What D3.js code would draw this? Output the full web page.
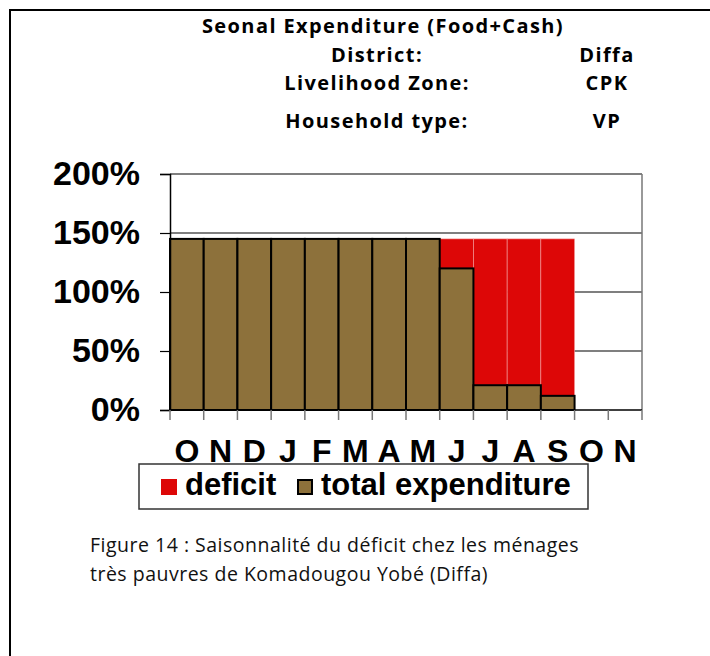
<!DOCTYPE html>
<html>
<head>
<meta charset="utf-8">
<script src="https://cdn.jsdelivr.net/npm/d3@7"></script>
<style>
  body { margin: 0; background: #fff; }
  svg { display: block; }
</style>
</head>
<body>
<div id="chart"></div>
<script>
// months along the x axis (Oct to Nov of the following year)
var months = ['O','N','D','J','F','M','A','M','J','J','A','S','O','N'];
// percent of needs covered
var totalExpenditure = [145,145,145,145,145,145,145,145,120,21,21,12,0,0];
var deficit = [0,0,0,0,0,0,0,0,25,124,124,133,0,0];
var yTicks = [0,50,100,150,200];

var headerLabels = ['District:','Livelihood Zone:','Household type:'];
var headerValues = ['Diffa','CPK','VP'];

var width = 710, height = 656;
var margin = { top: 174, right: 68, bottom: 246, left: 170 };
var w = width - margin.left - margin.right,
    h = height - margin.top - margin.bottom;

var svg = d3.select('#chart').append('svg')
    .attr('width', width)
    .attr('height', height);

// outer frame (left + top only, rest is cropped)
svg.append('path')
    .attr('d', 'M10,' + height + ' V10 H' + width)
    .attr('fill', 'none')
    .attr('stroke', '#000')
    .attr('stroke-width', 2);

// header
var hfont = '"Open Sans", Lato, sans-serif';
function headerText(txt, xx, yy){
    svg.append('text')
        .attr('x', xx).attr('y', yy)
        .attr('text-anchor', 'middle')
        .style('font', 'bold 20px ' + hfont)
        .style('letter-spacing', '1.4px')
        .text(txt);
}
headerText('Seonal Expenditure (Food+Cash)', 383, 33);

var rowY = [62, 90, 128];
headerLabels.forEach(function(lbl, i){
    headerText(lbl, 377, rowY[i]);
    headerText(headerValues[i], 607, rowY[i]);
});

var g = svg.append('g')
    .attr('transform', 'translate(' + margin.left + ',' + margin.top + ')');

var x = d3.scaleBand()
    .domain(d3.range(months.length))
    .range([0, w])
    .padding(0);

var y = d3.scaleLinear()
    .domain([0, 200])
    .range([h, 0]);

// gridlines
g.selectAll('.grid')
    .data(yTicks.slice(1))
    .enter().append('line')
    .attr('x1', 0).attr('x2', w)
    .attr('y1', function(d){ return y(d); })
    .attr('y2', function(d){ return y(d); })
    .attr('stroke', '#000')
    .attr('stroke-width', 1.2);

// right border of plot area
g.append('line')
    .attr('x1', w).attr('x2', w)
    .attr('y1', 0).attr('y2', h)
    .attr('stroke', '#777')
    .attr('stroke-width', 1.5);

// stacked bars
var stackData = months.map(function(m, i){
    return { i: i, total: totalExpenditure[i], deficit: deficit[i] };
});

g.selectAll('.def')
    .data(stackData.filter(function(d){ return d.deficit > 0; }))
    .enter().append('rect')
    .attr('class', 'def')
    .attr('x', function(d){ return x(d.i); })
    .attr('width', x.bandwidth())
    .attr('y', function(d){ return y(d.total + d.deficit); })
    .attr('height', function(d){ return y(d.total) - y(d.total + d.deficit); })
    .attr('fill', '#dd0707')
    .attr('stroke', '#f3a0a0')
    .attr('stroke-width', 0.6);

g.selectAll('.tot')
    .data(stackData.filter(function(d){ return d.total > 0; }))
    .enter().append('rect')
    .attr('class', 'tot')
    .attr('x', function(d){ return x(d.i); })
    .attr('width', x.bandwidth())
    .attr('y', function(d){ return y(d.total); })
    .attr('height', function(d){ return h - y(d.total); })
    .attr('fill', '#8d713b')
    .attr('stroke', '#000')
    .attr('stroke-width', 2);

// y axis
var yAxis = d3.axisLeft(y)
    .tickValues(yTicks)
    .tickSize(10)
    .tickPadding(20)
    .tickFormat(function(d){ return d + '%'; });

var gy = g.append('g').call(yAxis);
gy.select('.domain').attr('stroke', '#000').attr('stroke-width', 1.5);
gy.selectAll('.tick line').attr('stroke', '#000').attr('stroke-width', 1.2);
gy.selectAll('.tick text')
    .attr('fill', '#000')
    .style('font', 'bold 34px Arial, "Liberation Sans", sans-serif');

// x axis baseline + ticks at band boundaries
var gx = g.append('g').attr('transform', 'translate(0,' + h + ')');
gx.append('line')
    .attr('x1', 0).attr('x2', w)
    .attr('stroke', '#000').attr('stroke-width', 1.5);
gx.selectAll('.xt')
    .data(d3.range(months.length + 1))
    .enter().append('line')
    .attr('x1', function(d){ return d * x.step(); })
    .attr('x2', function(d){ return d * x.step(); })
    .attr('y1', 0).attr('y2', 10)
    .attr('stroke', '#777').attr('stroke-width', 1.5);
gx.selectAll('.xl')
    .data(months)
    .enter().append('text')
    .attr('x', function(d, i){ return x(i) + x.bandwidth() / 2; })
    .attr('y', 52)
    .attr('text-anchor', 'middle')
    .style('font', 'bold 32px Arial, "Liberation Sans", sans-serif')
    .text(function(d){ return d; });

// legend
var lg = svg.append('g').attr('transform', 'translate(139,464)');
lg.append('rect')
    .attr('width', 449).attr('height', 45)
    .attr('fill', '#fff')
    .attr('stroke', '#333').attr('stroke-width', 1.5);
lg.append('rect')
    .attr('x', 22).attr('y', 15).attr('width', 16).attr('height', 16)
    .attr('fill', '#dd0707');
lg.append('text')
    .attr('x', 46).attr('y', 31)
    .style('font', 'bold 31px Arial, "Liberation Sans", sans-serif')
    .text('deficit');
lg.append('rect')
    .attr('x', 159).attr('y', 16).attr('width', 14).attr('height', 14)
    .attr('fill', '#8d713b')
    .attr('stroke', '#000').attr('stroke-width', 2);
lg.append('text')
    .attr('x', 182).attr('y', 31)
    .style('font', 'bold 31px Arial, "Liberation Sans", sans-serif')
    .text('total expenditure');

// caption
var cap = svg.append('text')
    .style('font', '19.5px "Open Sans", Lato, sans-serif')
    .style('letter-spacing', '0.5px')
    .attr('fill', '#111');
cap.append('tspan').attr('x', 90).attr('y', 552)
    .text('Figure 14 : Saisonnalité du déficit chez les ménages');
cap.append('tspan').attr('x', 90).attr('y', 581)
    .text('très pauvres de Komadougou Yobé (Diffa)');
</script>
</body>
</html>
